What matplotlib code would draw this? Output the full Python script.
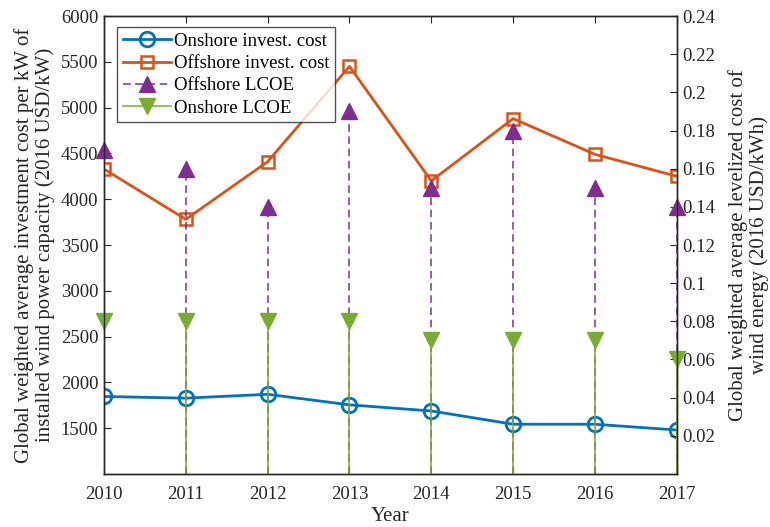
import matplotlib
matplotlib.use("Agg")
import matplotlib.pyplot as plt
from matplotlib.lines import Line2D

plt.rcParams['font.family'] = ['Liberation Serif', 'DejaVu Serif']
plt.rcParams['font.size'] = 13.5

years = [2010, 2011, 2012, 2013, 2014, 2015, 2016, 2017]
onshore_invest = [1846, 1828, 1870, 1755, 1688, 1543, 1543, 1480]
offshore_invest = [4330, 3780, 4410, 5450, 4200, 4880, 4490, 4250]
offshore_lcoe = [0.17, 0.16, 0.14, 0.19, 0.15, 0.18, 0.15, 0.14]
onshore_lcoe = [0.08, 0.08, 0.08, 0.08, 0.07, 0.07, 0.07, 0.06]

left_ticks = [1500, 2000, 2500, 3000, 3500, 4000, 4500, 5000, 5500, 6000]
right_ticks = [0.02, 0.04, 0.06, 0.08, 0.1, 0.12, 0.14, 0.16, 0.18, 0.2, 0.22, 0.24]

c_blue = '#0072BD'
c_orange = '#D95319'
c_purple = '#7E2F8E'
c_green = '#77AC30'
txt = '#262626'
dash = (0, (5, 3))

fig = plt.figure(figsize=(7.70, 5.27), dpi=100)
ax = fig.add_axes([0.135, 0.1006, 0.744, 0.869])
ax2 = ax.twinx()

# investment costs on the left axis
ax.plot(years, onshore_invest, '-o', color=c_blue, lw=2, ms=10.5,
        mfc='none', mew=2, zorder=3)
ax.plot(years, offshore_invest, '-s', color=c_orange, lw=2, ms=8,
        mfc='none', mew=1.8, zorder=3)

# LCOE stems on the right axis
ml, sl, bl = ax2.stem(years, offshore_lcoe, linefmt='--', markerfmt='^', basefmt=' ')
sl.set_color(c_purple)
sl.set_linewidth(1.1)
sl.set_linestyle(dash)
ml.set_color(c_purple)
ml.set_markersize(12)
ml.set_clip_on(False)
ml2, sl2, bl2 = ax2.stem(years, onshore_lcoe, linefmt='-', markerfmt='v', basefmt=' ')
sl2.set_color(c_green)
sl2.set_linewidth(1.1)
ml2.set_color(c_green)
ml2.set_markersize(12)
ml2.set_clip_on(False)

ax.set_xlim(2010, 2017)
ax.set_ylim(1000, 6000)
ax2.set_ylim(0, 0.24)
ax.set_xticks(years)
ax.set_xticklabels([str(y) for y in years])
ax.set_yticks(left_ticks)
ax2.set_yticks(right_ticks)
ax2.set_yticklabels(['%g' % t for t in right_ticks])

ax.tick_params(axis='x', direction='in', top=True, length=5, colors=txt, pad=9)
ax.tick_params(axis='y', direction='in', length=5, colors=txt, pad=4)
ax2.tick_params(axis='y', direction='in', length=5, colors=txt, pad=4)
for a in (ax, ax2):
    for s in a.spines.values():
        s.set_color(txt)
        s.set_linewidth(1.0)

ax.set_xlabel('Year', color=txt, fontsize=15, labelpad=2.5)
ax.set_ylabel('Global weighted average investment cost per kW of\n'
              'installed wind power capacity (2016 USD/kW)', color=txt,
              fontsize=15, linespacing=1.1, labelpad=4)
ax2.set_ylabel('Global weighted average levelized cost of\n'
               'wind energy (2016 USD/kWh)', color=txt, fontsize=15,
               linespacing=1.1, labelpad=9)

handles = [
    Line2D([], [], color=c_blue, lw=2, marker='o', ms=10.5, mfc='none', mew=2),
    Line2D([], [], color=c_orange, lw=2, marker='s', ms=8, mfc='none', mew=1.8),
    Line2D([], [], color=c_purple, lw=1.1, ls=dash, marker='^', ms=12),
    Line2D([], [], color=c_green, lw=1.1, marker='v', ms=12),
]
labels = ['Onshore invest. cost', 'Offshore invest. cost', 'Offshore LCOE', 'Onshore LCOE']
leg = ax2.legend(handles, labels, loc='upper left', bbox_to_anchor=(0.152, 0.9488),
                 bbox_transform=fig.transFigure, frameon=True, fancybox=False,
                 edgecolor=txt, handlelength=2.6, handletextpad=0.15,
                 borderpad=0.3, labelspacing=0.28, borderaxespad=0,
                 markerfirst=True)
leg.get_frame().set_linewidth(1.0)
for t in leg.get_texts():
    t.set_color('black')

fig.savefig('out.png', dpi=100)
